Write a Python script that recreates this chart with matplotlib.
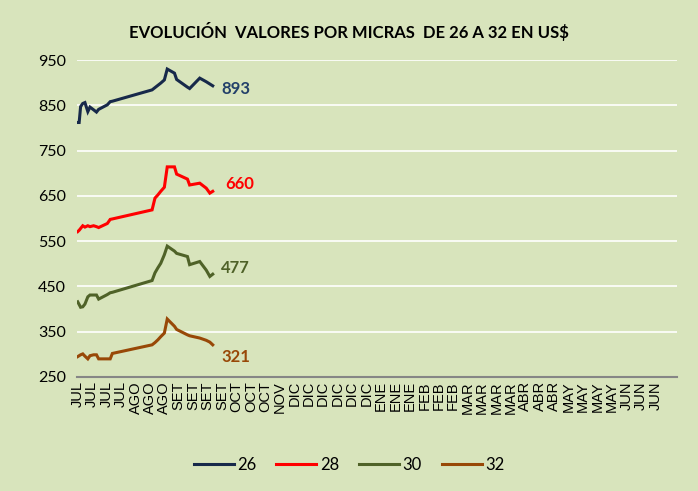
import matplotlib.pyplot as plt

# Eje X: meses (etiquetas de categoría)
meses = (["JUL"] * 4 + ["AGO"] * 3 + ["SET"] * 4 + ["OCT"] * 3 + ["NOV"]
         + ["DIC"] * 6 + ["ENE"] * 3 + ["FEB"] * 3 + ["MAR"] * 4
         + ["ABR"] * 3 + ["MAY"] * 4 + ["JUN"] * 3)

# posición de cada remate (en unidades de categoría)
semana = [0, 0.1, 0.2, 0.35, 0.5, 0.7, 0.85, 1.1, 1.3, 1.45, 2.05, 2.25, 2.4,
          5.15, 5.35, 5.55, 5.75, 6.0, 6.2, 6.7, 6.85, 7.6, 7.75, 8.45, 8.9,
          9.15, 9.35]

m26 = [812, 812, 847, 854, 856, 836, 846, 840, 835, 841, 851, 858, 859,
       884, 889, 894, 899, 906, 930, 921, 907, 890, 887, 910, 902, 897, 893]
m28 = [571, 574, 578, 584, 581, 584, 582, 584, 582, 580, 589, 598, 599,
       619, 645, 652, 660, 669, 714, 714, 698, 687, 674, 678, 667, 656, 660]
m30 = [416, 410, 404, 405, 411, 427, 431, 431, 431, 422, 432, 436, 437,
       463, 480, 491, 501, 520, 539, 528, 523, 516, 498, 505, 486, 472, 477]
m32 = [295, 297, 299, 301, 296, 290, 297, 299, 299, 290, 290, 290, 302,
       321, 326, 332, 339, 347, 378, 362, 355, 343, 341, 336, 331, 327, 321]

series = [("26", m26, "#17294A", "#23406A"),
          ("28", m28, "#FF0000", "#FF0000"),
          ("30", m30, "#4F6228", "#4F6228"),
          ("32", m32, "#984807", "#984807")]
# donde va el valor final (x, y en datos)
etiqueta_pos = {"26": (9.95, 886), "28": (10.2, 676),
                "30": (9.95, 491), "32": (9.95, 294)}

bg = "#D8E4BC"
fig = plt.figure(figsize=(6.98, 4.91), dpi=100, facecolor=bg)
ax = fig.add_axes([0.1103, 0.2322, 0.8596, 0.6456], facecolor=bg)

for nombre, vals, color, tcolor in series:
    ax.plot(semana, vals, color=color, linewidth=2.2, label=nombre,
            solid_joinstyle="miter")
    tx, ty = etiqueta_pos[nombre]
    ax.text(tx, ty, str(vals[-1]), color=tcolor,
            fontsize=12, fontweight="bold", family="Lato",
            ha="left", va="center")

ax.set_ylim(250, 950)
ax.set_yticks(range(250, 951, 100))
ax.set_xlim(-0.05, 41.5)
ax.set_xticks(range(len(meses)))
ax.set_xticklabels(meses, rotation=90, fontsize=10.5, family="Liberation Sans")
ax.tick_params(axis="x", length=0, pad=3)
ax.tick_params(axis="y", length=0, pad=8, labelsize=11.5)
for lab in ax.get_yticklabels():
    lab.set_family("Lato")

ax.grid(axis="y", color="white", linewidth=1.2)
ax.set_axisbelow(True)
for s in ["top", "right", "left"]:
    ax.spines[s].set_visible(False)
ax.spines["bottom"].set_color("#868686")
ax.spines["bottom"].set_linewidth(1.5)

fig.text(0.5, 0.935, "EVOLUCIÓN  VALORES POR MICRAS  DE 26 A 32 EN US$",
         ha="center", va="center", fontsize=12, fontweight="bold",
         family="Lato")

fig.legend(loc="center", bbox_to_anchor=(0.50, 0.053), ncol=4,
           frameon=False, prop={"family": "Lato", "size": 12},
           handlelength=2.4, columnspacing=1.2, handletextpad=0.2)

fig.savefig("out.png", dpi=100, facecolor=bg)
